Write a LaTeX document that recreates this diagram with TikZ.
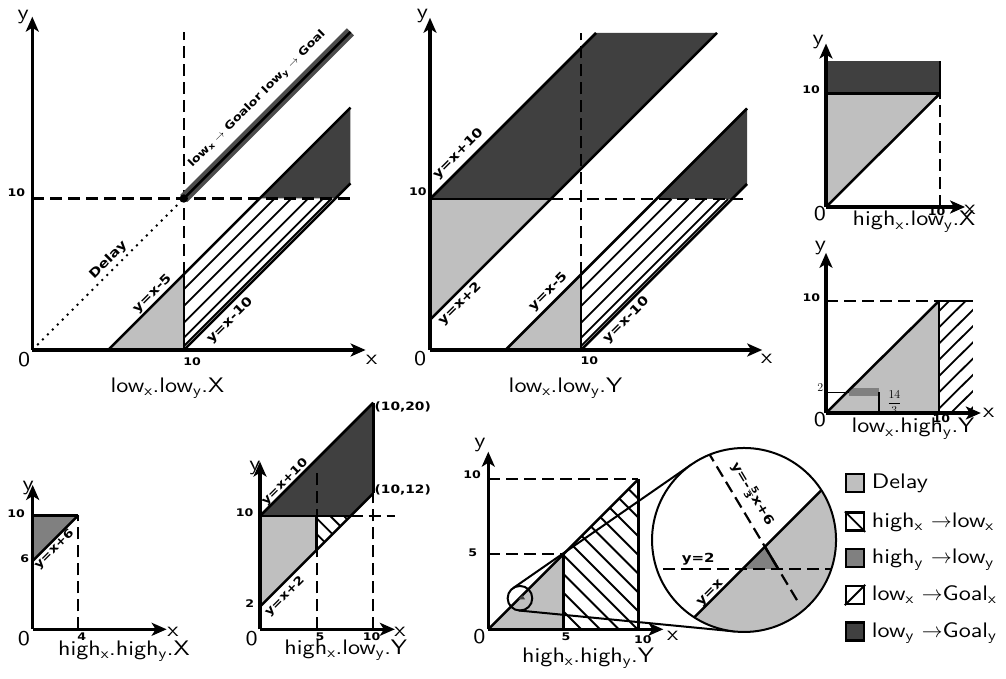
\documentclass[tikz,border=0pt]{standalone}
\usepackage{fontspec}
\usepackage{amsmath}
\usetikzlibrary{arrows.meta}
\newfontfamily\labf{DejaVu Sans}[FakeStretch=1.2]
\newfontfamily\capf{lmsans10-regular.otf}[FakeStretch=1.15]
\definecolor{lg}{gray}{0.75}
\definecolor{mg}{gray}{0.5}
\definecolor{dk}{gray}{0.25}
\definecolor{bandc}{gray}{0.3}
\tikzset{
 axl/.style={line width=3.1pt,-{Stealth[length=15pt,width=13pt,inset=4pt]}},
 bnd/.style={line width=2.5pt},
 dsh/.style={line width=2.2pt,dash pattern=on 12pt off 6pt},
 htc/.style={line width=1.8pt},
 dotl/.style={line width=2pt,dash pattern=on 2pt off 5pt},
 numt/.style={font=\labf\bfseries\fontsize{10.5}{12}\selectfont,inner sep=0pt},
 lblt/.style={font=\labf\bfseries\fontsize{12.5}{14}\selectfont,inner sep=0pt},
 glblt/.style={font=\labf\bfseries\fontsize{10.8}{13}\selectfont,inner sep=0pt},
 slblt/.style={font=\labf\bfseries\fontsize{11.5}{13}\selectfont,inner sep=0pt},
 capt/.style={font=\capf\fontsize{21}{24}\selectfont,inner sep=0pt},
 serift/.style={font=\fontsize{13}{15}\selectfont,inner sep=0pt},
 legbox/.style={draw,line width=2.4pt,minimum size=18pt,inner sep=0pt},
 thinl/.style={line width=2pt},
}
\begin{document}
\begin{tikzpicture}[x=1pt,y=1pt]
\useasboundingbox (0,0) rectangle (1006,679);

% ---------------- plot 1: low_x.low_y.X
\begin{scope}[shift={(32.3pt,329pt)},x=15.15pt,y=15.15pt]
\fill[lg] (5,0)--(10,5)--(10,0)--cycle;
\fill[dk] (15,10)--(21,16)--(21,11)--(20,10)--cycle;
\begin{scope}
\clip (10,0)--(10,5)--(15,10)--(20,10)--cycle;
\foreach \c in {6,7.1,8.2,9.2,9.75}{\draw[htc] (\c,0)--({\c+10},10);}
\end{scope}
\draw[dsh] (10,5)--(10,21);
\draw[dsh] (0,10)--(21,10);
\draw[dotl] (0,0)--(10,10);
\draw[bnd] (5,0)--(21,16);
\draw[bnd] (10,0)--(21,11);
\draw[bnd] (10,0)--(10,5);
\draw[line width=10pt,bandc] (10,10)--(21,21);
\draw[bnd] (10,10)--(21,21);
\fill (10,10) circle[radius=4.2pt];
\draw[axl] (0,0)--(22,0);
\draw[axl] (0,0)--(0,22);
\node[numt] (p1tx) at (10.55,-0.8) {10};
\node[numt] (p1ty) at (-1.05,10.4) {10};
\node[capt] (p1z) at (-0.53,-0.66) {0};
\node[capt] (p1x) at (22.4,-0.66) {x};
\node[capt] (p1y) at (-0.6,22.0) {y};
\node[capt] (p1c) at (8.92,-2.5) {low\textsubscript{x}.low\textsubscript{y}.X};
\node[lblt,rotate=45] (p1d) at (5.02,5.94) {Delay};
\node[lblt,rotate=45] (p1a) at (7.93,3.70) {y=x-5};
\node[lblt,rotate=45] (p1b) at (13.05,1.93) {y=x-10};
\node[glblt,rotate=45] (p1g) at (14.85,16.55) {low\textsubscript{x} $\rightarrow$ Goalor low\textsubscript{y} $\rightarrow$ Goal};
\end{scope}

% ---------------- plot 2: low_x.low_y.Y
\begin{scope}[shift={(430pt,329pt)},x=15.1pt,y=15.1pt]
\fill[dk] (0,10)--(11,21)--(19,21)--(8,10)--cycle;
\fill[lg] (0,2)--(0,10)--(8,10)--cycle;
\fill[lg] (5,0)--(10,5)--(10,0)--cycle;
\fill[dk] (15,10)--(21,16)--(21,11)--(20,10)--cycle;
\begin{scope}
\clip (10,0)--(10,5)--(15,10)--(20,10)--cycle;
\foreach \c in {6,7.1,8.2,9.2,9.75}{\draw[htc] (\c,0)--({\c+10},10);}
\end{scope}
\draw[dsh] (10,5)--(10,21);
\draw[dsh] (8,10)--(21,10);
\draw[bnd] (0,10)--(8,10);
\draw[bnd] (0,2)--(19,21);
\draw[bnd] (0,10)--(11,21);
\draw[bnd] (5,0)--(21,16);
\draw[bnd] (10,0)--(21,11);
\draw[bnd] (10,0)--(10,5);
\draw[axl] (0,0)--(22,0);
\draw[axl] (0,0)--(0,22);
\node[numt] (p2ty) at (-0.8,10.48) {10};
\node[numt] (p2tx) at (10.55,-0.7) {10};
\node[capt] (p2z) at (-0.66,-0.55) {0};
\node[capt] (p2x) at (22.3,-0.6) {x};
\node[capt] (p2y) at (-0.5,22.1) {y};
\node[lblt,rotate=45] (p2a) at (1.88,13.0) {y=x+10};
\node[lblt,rotate=45] (p2b) at (1.99,3.05) {y=x+2};
\node[lblt,rotate=45] (p2e) at (7.83,3.86) {y=x-5};
\node[lblt,rotate=45] (p2f) at (13.0,1.99) {y=x-10};
\node[capt] (p2c) at (8.97,-2.52) {low\textsubscript{x}.low\textsubscript{y}.Y};
\end{scope}

% ---------------- plot 3: high_x.low_y.X
\begin{scope}[shift={(826pt,472pt)},x=11.4pt,y=11.35pt]
\fill[dk] (0,10) rectangle (10,12.9);
\fill[lg] (0,0)--(0,10)--(10,10)--cycle;
\draw[bnd] (0,0)--(10,10);
\draw[bnd] (0,10)--(10,10);
\draw[bnd] (10,10)--(10,12.9);
\draw[dsh] (10,0)--(10,10);
\draw[axl] (0,0)--(12.2,0);
\draw[axl] (0,0)--(0,14.4);
\node[capt] (p3y) at (-0.68,14.56) {y};
\node[numt] (p3ty) at (-1.3,10.3) {10};
\node[capt] (p3z) at (-0.53,-0.55) {0};
\node[numt] (p3tx) at (9.7,-0.4) {10};
\node[capt] (p3x) at (12.63,-0.26) {x};
\node[capt] (p3c) at (7.72,-1.3) {high\textsubscript{x}.low\textsubscript{y}.X};
\end{scope}

% ---------------- plot 4: low_x.high_y.Y
\begin{scope}[shift={(826pt,266pt)},x=11.3pt,y=11.2pt]
\fill[lg] (0,0)--(10,10)--(10,0)--cycle;
\begin{scope}
\clip (10,0) rectangle (13,10);
\foreach \c in {0.9,2.35,...,13}{\draw[htc] (\c,0)--({\c+10},10);}
\end{scope}
\fill[mg] (2.05,1.5) rectangle (4.7,2.2);
\draw[bnd] (0,0)--(10,10);
\draw[bnd] (10,0)--(10,10);
\draw[dsh] (0,10)--(10,10);
\draw[bnd] (10,10)--(13,10);
\draw[line width=1.5pt] (0,1.85)--(2.05,1.85);
\draw[line width=2pt] (4.67,1.85)--(4.67,0);
\draw[axl] (0,0)--(13.7,0);
\draw[axl] (0,0)--(0,14.3);
\node[capt] (p4y) at (-0.5,14.7) {y};
\node[numt] (p4ty) at (-1.3,10.3) {10};
\node[serift] (p4two) at (-0.5,2.23) {$2$};
\node[serift] (p4fr) at (6.05,0.95) {$\displaystyle\frac{14}{3}$};
\node[capt] (p4z) at (-0.53,-0.6) {0};
\node[numt] (p4tx) at (10.2,-0.5) {10};
\node[capt] (p4x) at (14.4,0.05) {x};
\node[capt] (p4c) at (7.7,-1.4) {low\textsubscript{x}.high\textsubscript{y}.Y};
\end{scope}

% ---------------- plot 5: high_x.high_y.X
\begin{scope}[shift={(32.7pt,49.7pt)},x=11.4pt,y=11.4pt]
\fill[mg] (0,6)--(0,10)--(4,10)--cycle;
\draw[bnd] (0,6)--(4,10);
\draw[bnd] (0,10)--(4,10);
\draw[dsh] (4,0)--(4,10);
\draw[axl] (0,0)--(11.75,0);
\draw[axl] (0,0)--(0,12.66);
\node[capt] (p5y) at (-0.4,12.4) {y};
\node[numt] (p5t) at (-1.45,10.1) {10};
\node[numt] (p5s) at (-0.7,6.2) {6};
\node[capt] (p5z) at (-0.76,-0.8) {0};
\node[numt] (p5f) at (4.3,-0.65) {4};
\node[capt] (p5x) at (12.3,-0.2) {x};
\node[slblt,rotate=45] (p5l) at (1.9,7.0) {y=x+6};
\node[capt] (p5c) at (8.0,-1.9) {high\textsubscript{x}.high\textsubscript{y}.X};
\end{scope}

% ---------------- plot 6: high_x.low_y.Y
\begin{scope}[shift={(260pt,49.7pt)},x=11.33pt,y=11.33pt]
\fill[dk] (0,10)--(10,20)--(10,12)--(8,10)--cycle;
\fill[lg] (0,2)--(0,10)--(5,10)--(5,7)--cycle;
\begin{scope}
\clip (5,7)--(5,10)--(8,10)--cycle;
\foreach \c in {13.4,14.8,16.2,17.4}{\draw[htc] ({\c-10},10)--(\c,0);}
\end{scope}
\draw[dsh] (5,0)--(5,14);
\draw[dsh] (10,0)--(10,12);
\draw[dsh] (8,10)--(11.9,10);
\draw[bnd] (0,2)--(10,12);
\draw[bnd] (0,10)--(10,20);
\draw[bnd] (10,12)--(10,20);
\draw[bnd] (0,10)--(8,10);
\draw[bnd] (5,7)--(5,10);
\draw[axl] (0,0)--(11.9,0);
\draw[axl] (0,0)--(0,14.8);
\node[slblt] (p6a) at (12.6,19.65) {(10,20)};
\node[slblt] (p6b) at (12.6,12.3) {(10,12)};
\node[slblt,rotate=45] (p6c) at (2.2,13.0) {y=x+10};
\node[slblt,rotate=45] (p6d) at (2.2,2.9) {y=x+2};
\node[numt] (p6two) at (-0.9,2.3) {2};
\node[numt] (p6ty) at (-1.35,10.3) {10};
\node[capt] (p6z) at (-0.73,-0.8) {0};
\node[numt] (p6fv) at (5.3,-0.7) {5};
\node[numt] (p6tx) at (9.86,-0.65) {10};
\node[capt] (p6x) at (12.35,-0.2) {x};
\node[capt] (p6y) at (-0.44,14.2) {y};
\node[capt] (p6cap) at (7.57,-1.83) {high\textsubscript{x}.low\textsubscript{y}.Y};
\end{scope}

% ---------------- plot 7: high_x.high_y.Y
\begin{scope}[shift={(488.3pt,49.7pt)},x=15pt,y=15pt]
\fill[lg] (0,0)--(5,5)--(5,0)--cycle;
\begin{scope}
\clip (5,0)--(5,5)--(10,10)--(10,0)--cycle;
\foreach \c in {6.2,7.45,...,20}{\draw[htc] ({\c-10},10)--(\c,0);}
\end{scope}
\draw[dsh] (0,10)--(10,10);
\draw[dsh] (0,5)--(5,5);
\draw[bnd] (0,0)--(10,10);
\draw[bnd] (5,0)--(5,5);
\draw[bnd] (10,0)--(10,10);
\fill[dk] (2,2)--(2.45,2)--(2.27,2.27)--cycle;
\draw[thinl] (2.11,2.07) circle[radius=12.3pt];
\draw[axl] (0,0)--(11.67,0);
\draw[axl] (0,0)--(0,11.84);
\node[capt] (p7y) at (-0.55,12.3) {y};
\node[numt] (p7ty) at (-1.08,10.3) {10};
\node[numt] (p7fy) at (-1.04,5.07) {5};
\node[capt] (p7z) at (-0.6,-0.5) {0};
\node[numt] (p7fx) at (5.18,-0.5) {5};
\node[numt] (p7tx) at (10.3,-0.7) {10};
\node[capt] (p7x) at (12.3,-0.45) {x};
\node[capt] (p7c) at (6.65,-1.91) {high\textsubscript{x}.high\textsubscript{y}.Y};
\end{scope}

% tangent connectors between the small and the big circle
\coordinate (t1s) at (513,90.8);
\coordinate (t1b) at (691.6,214.6);
\coordinate (t2s) at (518.8,68.5);
\coordinate (t2b) at (735.2,47.5);
\draw[thinl] (t1s)--(t1b);
\draw[thinl] (t2s)--(t2b);

% ---------------- magnified circle
\begin{scope}[shift={(564.7pt,-68pt)},x=89pt,y=89pt]
\begin{scope}
\clip (2.015,2.326) circle[radius=92pt];
\fill[white] (2.015,2.326) circle[radius=92pt];
\fill[lg] (0,0)--(4,4)--(4,0)--cycle;
\fill[mg] (2,2)--(2.4,2)--(2.25,2.25)--cycle;
\draw[dsh] (0.5,2)--(3.5,2);
\draw[dsh] (1.5,3.5)--(2.64,1.6);
\draw[bnd] (0.5,0.5)--(3.5,3.5);
\draw[bnd] (2.25,2.25)--(2.4,2);
\end{scope}
\draw[thinl] (2.015,2.326) circle[radius=92pt];
\node[lblt] (zc1) at (1.50,2.11) {y=2};
\node[lblt,rotate=45] (zc2) at (1.64,1.72) {y=x};
\node[lblt,rotate=-59] (zc3) at (2.11,2.84) {y=-$\frac{\text{5}}{\text{3}}$x+6};
\end{scope}

% ---------------- legend
\node[legbox,fill=lg] (lb1) at (855,195.7) {};
\node[legbox,fill=white] (lb2) at (855,157.3) {};
\node[legbox,fill=mg] (lb3) at (855,120.7) {};
\node[legbox,fill=white] (lb4) at (855,84) {};
\node[legbox,fill=dk] (lb5) at (855,47.3) {};
\draw[htc] (lb2.north west)--(lb2.south east);
\draw[htc] (lb4.south west)--(lb4.north east);
\node[capt,anchor=base west] (lt1) at (871.7,190) {Delay};
\node[capt,anchor=base west] (lt2) at (871.7,151.6) {high\textsubscript{x} $\rightarrow$low\textsubscript{x}};
\node[capt,anchor=base west] (lt3) at (871.7,115) {high\textsubscript{y} $\rightarrow$low\textsubscript{y}};
\node[capt,anchor=base west] (lt4) at (871.7,78.3) {low\textsubscript{x} $\rightarrow$Goal\textsubscript{x}};
\node[capt,anchor=base west] (lt5) at (871.7,41.6) {low\textsubscript{y} $\rightarrow$Goal\textsubscript{y}};
\end{tikzpicture}
\end{document}
